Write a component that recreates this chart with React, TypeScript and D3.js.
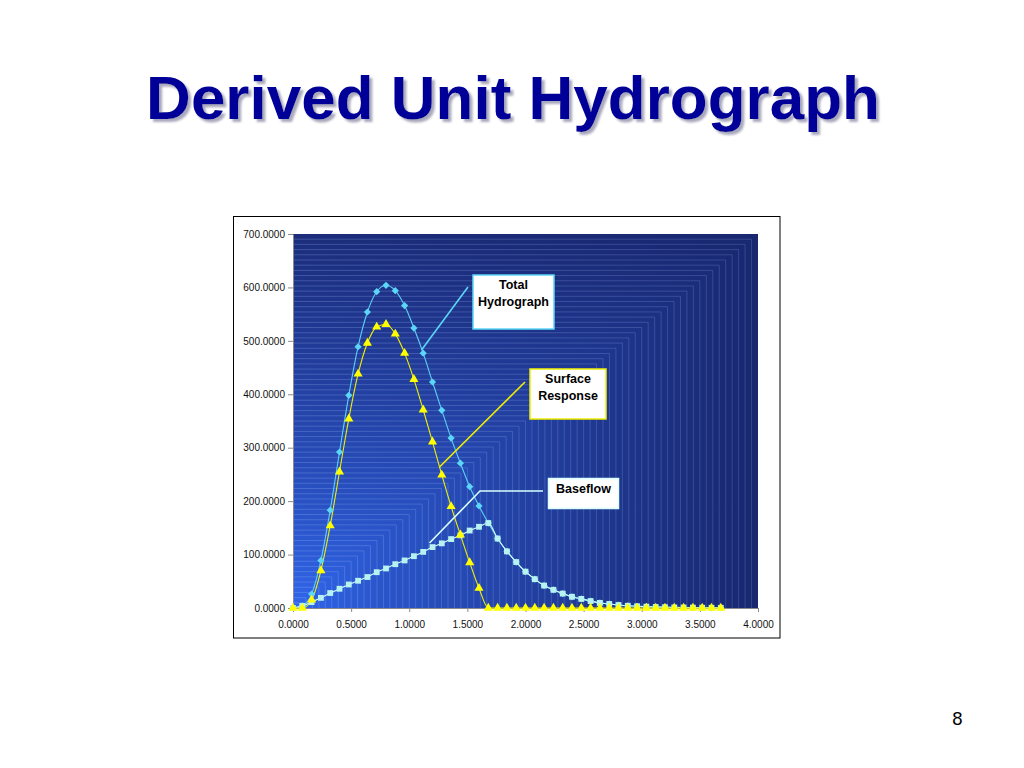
import React, { useEffect, useRef } from "react";
import * as d3 from "d3";

// time (hours) of each ordinate
const hours = [
  0, 0.08, 0.16, 0.24, 0.32, 0.4, 0.48, 0.56, 0.64, 0.72, 0.8, 0.88, 0.96, 1.04, 1.12, 1.2,
  1.28, 1.36, 1.44, 1.52, 1.6, 1.68, 1.76, 1.84, 1.92, 2.0, 2.08, 2.16, 2.24, 2.32, 2.4,
  2.48, 2.56, 2.64, 2.72, 2.8, 2.88, 2.96, 3.04, 3.12, 3.2, 3.28, 3.36, 3.44, 3.52, 3.6, 3.68,
];

const totalFlow = [
  0, 4, 26, 89, 183, 292, 398, 489, 554, 592, 604, 594, 566, 524, 477, 423,
  370, 318, 271, 227, 191, 159, 130, 106, 86, 68, 54, 42, 34, 27, 21,
  17, 13, 9.5, 7.5, 5.6, 4.2, 3.2, 2.5, 1.9, 1.5, 1.1, 0.9, 0.7, 0.5, 0.4, 0.3,
];

const surfaceFlow = [
  0, 0, 15, 70, 154, 255, 354, 438, 496, 526, 531, 513, 477, 428, 371, 311,
  249, 190, 137, 85, 37, 0, 0, 0, 0, 0, 0, 0, 0, 0, 0,
  0, 0, 0, 0, 0, 0, 0, 0, 0, 0, 0, 0, 0, 0, 0, 0,
];

const baseFlow = [
  0, 4, 11, 19, 28, 36, 44, 51, 58, 67, 74, 82, 89, 97, 105, 114,
  121, 129, 136, 145, 152, 159, 130, 106, 86, 68, 54, 42, 34, 27, 21,
  17, 13, 9.5, 7.5, 5.6, 4.2, 3.2, 2.5, 1.9, 1.5, 1.1, 0.9, 0.7, 0.5, 0.4, 0.3,
];

const xTicks = [0, 0.5, 1, 1.5, 2, 2.5, 3, 3.5, 4];
const yTicks = [0, 100, 200, 300, 400, 500, 600, 700];

const FONT = "'Liberation Sans', Arial, Helvetica, sans-serif";

const App = () => {
  const svgRef: any = useRef();

  useEffect(() => {
    const svg = d3.select(svgRef?.current);
    svg.selectAll("*").remove();
    const width = 1024;
    const height = 768;
    const plot = { left: 293, right: 758, top: 234, bottom: 608 };
    const pw = plot.right - plot.left;
    const ph = plot.bottom - plot.top;

    svg.attr("width", width).attr("height", height);
    svg.append("rect").attr("width", width).attr("height", height).attr("fill", "#fff");

    const defs = svg.append("defs");
    const shadow = defs
      .append("filter")
      .attr("id", "titleShadow")
      .attr("x", "-5%")
      .attr("y", "-20%")
      .attr("width", "110%")
      .attr("height", "140%");
    shadow
      .append("feDropShadow")
      .attr("dx", 3)
      .attr("dy", 3)
      .attr("stdDeviation", 1)
      .attr("flood-color", "#8c8ca6")
      .attr("flood-opacity", 0.75);

    // Title
    svg
      .append("text")
      .attr("x", 513)
      .attr("y", 119)
      .attr("text-anchor", "middle")
      .attr("font-family", FONT)
      .attr("font-weight", "bold")
      .attr("font-size", 62)
      .attr("fill", "#000099")
      .attr("filter", "url(#titleShadow)")
      .text("Derived Unit Hydrograph");

    // page number
    svg
      .append("text")
      .attr("x", 957.5)
      .attr("y", 725)
      .attr("text-anchor", "middle")
      .attr("font-family", FONT)
      .attr("font-size", 18.5)
      .attr("fill", "#000")
      .text("8");

    // chart frame
    svg
      .append("rect")
      .attr("x", 233.5)
      .attr("y", 216.5)
      .attr("width", 546.5)
      .attr("height", 421.5)
      .attr("fill", "#fff")
      .attr("stroke", "#000")
      .attr("stroke-width", 1);

    // "from corner" gradient: nested rectangles anchored bottom-left
    const rings = 72;
    const col = d3.interpolateRgb("#3168f0", "#1c2d7c");
    const bg = svg.append("g");
    for (let i = 0; i < rings; i++) {
      const s = 1 - i / rings;
      bg.append("rect")
        .attr("x", plot.left)
        .attr("y", plot.bottom - ph * s)
        .attr("width", pw * s)
        .attr("height", ph * s)
        .attr("fill", col(Math.pow(s, 0.8)));
    }
    for (let i = 1; i < rings; i++) {
      const s = 1 - i / rings;
      bg.append("path")
        .attr("d", `M${plot.left},${plot.bottom - ph * s}H${plot.left + pw * s}V${plot.bottom}`)
        .attr("fill", "none")
        .attr("stroke", "rgba(170,195,255,0.32)")
        .attr("stroke-width", 0.8);
    }
    const lg = defs.append("linearGradient").attr("id", "shade").attr("x1", 0).attr("x2", 1).attr("y1", 0).attr("y2", 0);
    lg.append("stop").attr("offset", 0).attr("stop-color", "#0a1040").attr("stop-opacity", 0);
    lg.append("stop").attr("offset", 1).attr("stop-color", "#0a1040").attr("stop-opacity", 0.2);
    bg.append("rect")
      .attr("x", plot.left)
      .attr("y", plot.top)
      .attr("width", pw)
      .attr("height", ph)
      .attr("fill", "url(#shade)");

    // Scales
    const xScale = d3.scaleLinear().domain([0, 4]).range([plot.left, plot.right]);
    const yScale = d3.scaleLinear().domain([0, 700]).range([plot.bottom, plot.top]);

    // Axes
    const xAxis = svg
      .append("g")
      .attr("transform", `translate(0,${plot.bottom})`)
      .call(d3.axisBottom(xScale).tickValues(xTicks).tickSize(4).tickSizeOuter(0).tickFormat(d3.format(".4f")));
    const yAxis = svg
      .append("g")
      .attr("transform", `translate(${plot.left},0)`)
      .call(d3.axisLeft(yScale).tickValues(yTicks).tickSize(5).tickSizeOuter(0).tickFormat(d3.format(".4f")));
    [xAxis, yAxis].forEach((ax) => {
      ax.select(".domain").attr("stroke", "#8a8a8a");
      ax.selectAll(".tick line").attr("stroke", "#8a8a8a");
      ax.selectAll("text")
        .attr("font-family", FONT)
        .attr("font-size", 10)
        .attr("fill", "#111");
    });
    xAxis.selectAll("text").attr("dy", null).attr("y", 19.5);
    yAxis.selectAll("text").attr("x", -8).attr("dy", "0.32em");

    const pts = (vals: number[]) => hours.map((t, i) => [t, vals[i]] as [number, number]);
    const line = d3
      .line<[number, number]>()
      .x((d) => xScale(d[0]))
      .y((d) => yScale(d[1]))
      .curve(d3.curveMonotoneX);

    const series = [
      { data: pts(totalFlow), stroke: "#5cd0f5", fill: "#5cd6f8", symbol: d3.symbolSquare, size: 26, rotate: 45 },
      { data: pts(baseFlow), stroke: "#d8ffff", fill: "#b5f2f0", symbol: d3.symbolSquare, size: 34, rotate: 0 },
      { data: pts(surfaceFlow), stroke: "#f0f000", fill: "#ffff00", symbol: d3.symbolTriangle, size: 36, rotate: 0 },
    ];

    series.forEach((s) => {
      svg
        .append("path")
        .datum(s.data)
        .attr("d", line)
        .attr("fill", "none")
        .attr("stroke", s.stroke)
        .attr("stroke-width", 1.1);
    });
    series.forEach((s) => {
      svg
        .append("g")
        .selectAll("path")
        .data(s.data)
        .join("path")
        .attr("transform", (d) => `translate(${xScale(d[0])},${yScale(d[1])}) rotate(${s.rotate})`)
        .attr("d", d3.symbol().type(s.symbol).size(s.size))
        .attr("fill", s.fill);
    });

    // Annotations
    const notes = [
      {
        lines: ["Total", "Hydrograph"],
        box: [473, 275, 81, 54],
        color: "#5cd6f8",
        pointer: "M468,287L421.5,350",
      },
      {
        lines: ["Surface", "Response"],
        box: [530, 369, 76, 50],
        color: "#f0f000",
        pointer: "M525,382L439.5,467",
      },
      {
        lines: ["Baseflow"],
        box: [548.5, 478.5, 70, 30],
        color: "#d8ffff",
        pointer: "M543,491H480L429.5,543",
      },
    ];
    notes.forEach((n) => {
      svg
        .append("path")
        .attr("d", n.pointer)
        .attr("fill", "none")
        .attr("stroke", n.color)
        .attr("stroke-width", 1.6);
      svg
        .append("rect")
        .attr("x", n.box[0])
        .attr("y", n.box[1])
        .attr("width", n.box[2])
        .attr("height", n.box[3])
        .attr("fill", "#fff")
        .attr("stroke", n.color)
        .attr("stroke-width", 1.5);
      n.lines.forEach((t, i) => {
        svg
          .append("text")
          .attr("x", n.box[0] + n.box[2] / 2)
          .attr("y", n.box[1] + 14 + i * 16.5)
          .attr("text-anchor", "middle")
          .attr("font-family", FONT)
          .attr("font-weight", "bold")
          .attr("font-size", 12.5)
          .attr("fill", "#000")
          .text(t);
      });
    });
  }, []);

  return (
    <svg
      ref={svgRef}
      style={{ position: "absolute", left: 0, top: 0, display: "block" }}
    ></svg>
  );
};

export default App;
